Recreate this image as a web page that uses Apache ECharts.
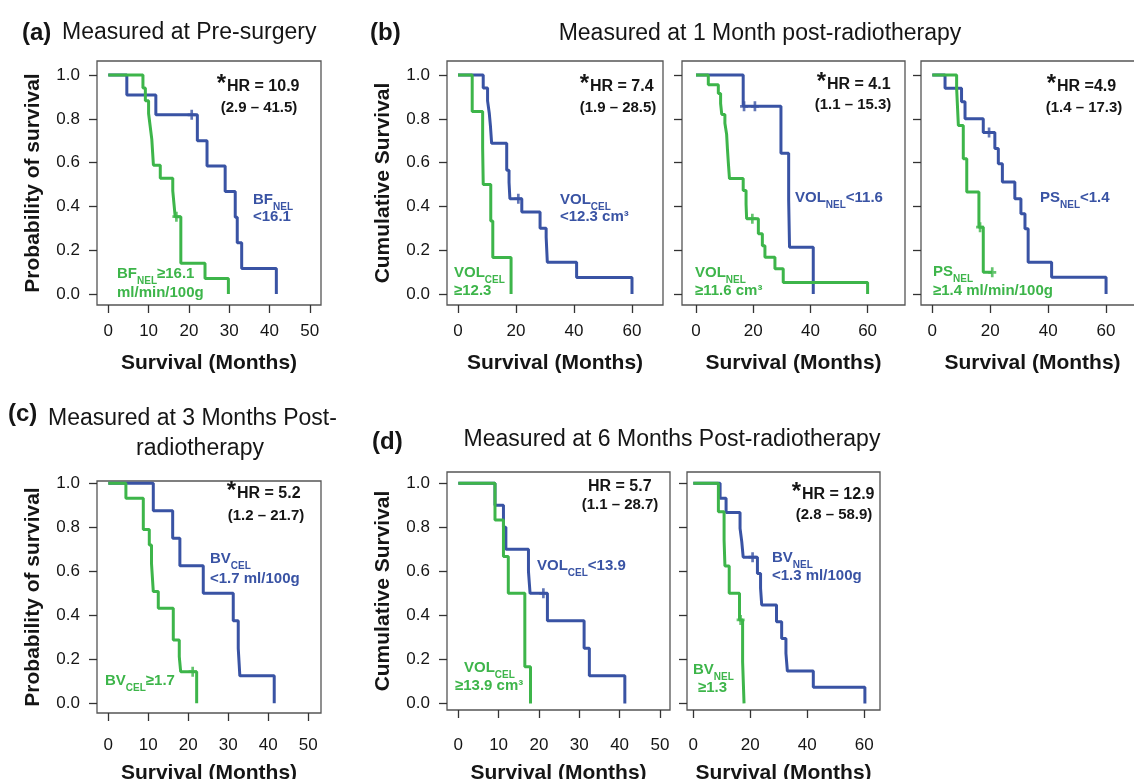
<!DOCTYPE html>
<html><head><meta charset="utf-8">
<script src="https://cdn.jsdelivr.net/npm/echarts@6/dist/echarts.min.js"></script>
<style>html,body{margin:0;padding:0;background:#fff}#c{width:1134px;height:779px}</style>
</head><body><div id="c"></div><script>
// ---------------- DATA ----------------
const xTicks50 = [0, 10, 20, 30, 40, 50];
const xTicks60 = [0, 20, 40, 60];
const yTicks = [0, 0.2, 0.4, 0.6, 0.8, 1];

// (a) Pre-surgery, BF_NEL
const aBlueTime = [0, 4.6, 11.8, 22.1, 24.5, 29.0, 31.5, 32.0, 33.1, 41.7];
const aBlueSurv = [1, 0.909, 0.818, 0.700, 0.585, 0.468, 0.351, 0.234, 0.117, 0];
const aBlueCens = [20.7];
const aGreenTime = [0, 8.6, 9.2, 10.0, 10.4, 10.8, 11.0, 11.2, 12.9, 16.0, 16.3, 16.6, 18.0, 24.0, 29.8];
const aGreenSurv = [1, 0.941, 0.882, 0.824, 0.765, 0.706, 0.647, 0.588, 0.529, 0.471, 0.412, 0.353, 0.141, 0.071, 0];
const aGreenCens = [16.9];

// (b1) 1 month post-RT, VOL_CEL
const b1BlueTime = [0, 8.7, 10.2, 10.8, 11.2, 11.6, 16.8, 17.6, 17.9, 22.0, 28.3, 30.4, 30.8, 40.9, 60.0];
const b1BlueSurv = [1, 0.941, 0.882, 0.824, 0.765, 0.688, 0.565, 0.510, 0.435, 0.374, 0.300, 0.260, 0.145, 0.075, 0];
const b1BlueCens = [20.8];
const b1GreenTime = [0, 4.9, 8.5, 8.7, 11.3, 12.0, 18.3];
const b1GreenSurv = [1, 0.833, 0.667, 0.5, 0.333, 0.167, 0];
const b1GreenCens = [];

// (b2) VOL_NEL
const b2BlueTime = [0, 16.5, 29.7, 32.4, 32.7, 41.0];
const b2BlueSurv = [1, 0.857, 0.643, 0.429, 0.214, 0];
const b2BlueCens = [16.8, 20.6];
const b2GreenTime = [0, 4.3, 7.8, 8.6, 9.0, 10.1, 10.7, 11.0, 11.3, 11.7, 16.5, 17.5, 17.7, 21.8, 23.2, 24.1, 27.6, 30.5, 60.0];
const b2GreenSurv = [1, 0.955, 0.916, 0.87, 0.82, 0.78, 0.73, 0.66, 0.60, 0.527, 0.473, 0.41, 0.344, 0.275, 0.22, 0.168, 0.115, 0.053, 0];
const b2GreenCens = [19.7];

// (b3) PS_NEL
const b3BlueTime = [0, 4.4, 10.1, 11.3, 17.6, 21.6, 22.8, 24.2, 28.5, 30.6, 32.0, 33.1, 41.2, 60.0];
const b3BlueSurv = [1, 0.94, 0.878, 0.80, 0.737, 0.664, 0.595, 0.511, 0.435, 0.366, 0.298, 0.145, 0.076, 0];
const b3BlueCens = [19.6];
const b3GreenTime = [0, 8.4, 9.0, 10.7, 11.9, 16.1, 17.6, 20.7];
const b3GreenSurv = [1, 0.94, 0.77, 0.618, 0.466, 0.305, 0.099, 0.099];
const b3GreenCens = [16.5, 20.7];

// (c) 3 months post-RT, BV_CEL
const cBlueTime = [0, 11.25, 16.1, 17.9, 23.75, 31.25, 32.5, 32.9, 41.5];
const cBlueSurv = [1, 0.875, 0.75, 0.625, 0.5, 0.375, 0.25, 0.125, 0];
const cBlueCens = [];
const cGreenTime = [0, 4.4, 8.75, 10.25, 10.8, 11.25, 12.5, 16.25, 17.75, 18.1, 22.1];
const cGreenSurv = [1, 0.932, 0.79, 0.72, 0.636, 0.508, 0.432, 0.288, 0.212, 0.144, 0];
const cGreenCens = [21.1];

// (d1) 6 months post-RT, VOL_CEL
const d1BlueTime = [0, 9.1, 11.2, 11.8, 17.4, 17.8, 22.1, 31.2, 32.5, 41.3];
const d1BlueSurv = [1, 0.9, 0.8, 0.7, 0.6, 0.5, 0.375, 0.25, 0.125, 0];
const d1BlueCens = [21.1];
const d1GreenTime = [0, 9.1, 11.2, 12.4, 16.5, 17.9];
const d1GreenSurv = [1, 0.833, 0.667, 0.5, 0.167, 0];
const d1GreenCens = [];

// (d2) BV_NEL
const d2BlueTime = [0, 9.4, 11.5, 16.4, 17.0, 17.5, 22.5, 23.6, 24.0, 29.2, 31.0, 32.5, 33.0, 42.1, 60.2];
const d2BlueSurv = [1, 0.932, 0.867, 0.795, 0.735, 0.664, 0.59, 0.523, 0.447, 0.371, 0.295, 0.227, 0.147, 0.073, 0];
const d2BlueCens = [20.8];
const d2GreenTime = [0, 8.8, 10.8, 11.1, 12.6, 16.2, 17.3, 17.8];
const d2GreenSurv = [1, 0.871, 0.742, 0.624, 0.5, 0.379, 0.189, 0];
const d2GreenCens = [16.6];

// ---------------- RENDERING ----------------
const F = '"Liberation Sans", Arial, Helvetica, sans-serif';
const BLUE = '#3953A4', GREEN = '#3DB54A', INK = '#151515';

function stepData(T, S) { return T.map((t, i) => [t, S[i]]); }
function survAt(T, S, t) { let v = S[0]; for (let i = 0; i < T.length; i++) { if (T[i] <= t) v = S[i]; } return v; }
function censData(T, S, C) { return C.map(t => [t, survAt(T, S, t)]); }

const panels = [
  { grid: { left: 97, top: 61, width: 224, height: 244 }, xr: [-2.8, 52.78], xt: xTicks50, yr: [-0.0502, 1.064], ylab: true, yname: 'Probability of survival', lm: 18, ng: 48,
    curves: [[aBlueTime, aBlueSurv, aBlueCens], [aGreenTime, aGreenSurv, aGreenCens]] },
  { grid: { left: 447, top: 61, width: 216, height: 244 }, xr: [-3.79, 70.69], xt: xTicks60, yr: [-0.0502, 1.064], ylab: true, yname: 'Cumulative Survival', lm: 18, ng: 48,
    curves: [[b1BlueTime, b1BlueSurv, b1BlueCens], [b1GreenTime, b1GreenSurv, b1GreenCens]] },
  { grid: { left: 682, top: 61, width: 223, height: 244 }, xr: [-4.9, 73.08], xt: xTicks60, yr: [-0.0502, 1.064], ylab: false, yname: '', lm: 18, ng: 48,
    curves: [[b2BlueTime, b2BlueSurv, b2BlueCens], [b2GreenTime, b2GreenSurv, b2GreenCens]] },
  { grid: { left: 921, top: 61, width: 223, height: 244 }, xr: [-3.9, 73.1], xt: xTicks60, yr: [-0.0502, 1.064], ylab: false, yname: '', lm: 18, ng: 48,
    curves: [[b3BlueTime, b3BlueSurv, b3BlueCens], [b3GreenTime, b3GreenSurv, b3GreenCens]] },
  { grid: { left: 97, top: 481, width: 224, height: 232 }, xr: [-2.83, 53.2], xt: xTicks50, yr: [-0.044, 1.0105], ylab: true, yname: 'Probability of survival', lm: 24, ng: 50,
    curves: [[cBlueTime, cBlueSurv, cBlueCens], [cGreenTime, cGreenSurv, cGreenCens]] },
  { grid: { left: 447, top: 472, width: 223, height: 238 }, xr: [-2.8, 52.5], xt: xTicks50, yr: [-0.030, 1.051], ylab: true, yname: 'Cumulative Survival', lm: 27, ng: 53,
    curves: [[d1BlueTime, d1BlueSurv, d1BlueCens], [d1GreenTime, d1GreenSurv, d1GreenCens]] },
  { grid: { left: 687, top: 472, width: 193, height: 238 }, xr: [-2.21, 65.5], xt: xTicks60, yr: [-0.030, 1.051], ylab: false, yname: '', lm: 27, ng: 53,
    curves: [[d2BlueTime, d2BlueSurv, d2BlueCens], [d2GreenTime, d2GreenSurv, d2GreenCens]] }
];

const nameStyle = { fontSize: 21, fontWeight: 'bold', fontFamily: F, color: INK };
const series = [];
panels.forEach((p, i) => {
  p.curves.forEach((c, k) => {
    const col = k === 0 ? BLUE : GREEN;
    series.push({ type: 'line', xAxisIndex: i, yAxisIndex: i, data: stepData(c[0], c[1]), step: 'end', symbol: 'none',
      lineStyle: { color: col, width: 3 }, itemStyle: { color: col }, silent: true, z: 2 + k });
  });
  p.curves.forEach((c, k) => {
    const col = k === 0 ? BLUE : GREEN;
    if (c[2].length) series.push({ type: 'scatter', xAxisIndex: i, yAxisIndex: i, data: censData(c[0], c[1], c[2]),
      symbol: 'path://M3,0 L6,0 L6,4 L9,4 L9,7 L6,7 L6,11 L3,11 L3,7 L0,7 L0,4 L3,4 Z', symbolSize: [8, 10],
      itemStyle: { color: col }, silent: true, z: 5 });
  });
});

// text annotations
const rich = {
  b: { fontSize: 15, fontWeight: 'bold', fontFamily: F, lineHeight: 20, verticalAlign: 'top' },
  s: { fontSize: 10, fontWeight: 'bold', fontFamily: F, lineHeight: 10, verticalAlign: 'bottom' },
  h: { fontSize: 16, fontWeight: 'bold', fontFamily: F, lineHeight: 20, verticalAlign: 'top' },
  ci: { fontSize: 15, fontWeight: 'bold', fontFamily: F, lineHeight: 20, verticalAlign: 'top' }
};
function T(x, y, text, fill, align) {
  return { type: 'text', x: x, y: y, silent: true, z: 10,
    style: { text: text, fill: fill, rich: rich, align: align, verticalAlign: 'middle', textAlign: align, textVerticalAlign: 'middle', font: 'bold 15px ' + F } };
}
function P(x, y, text, size, weight, align) {
  return { type: 'text', x: x, y: y, silent: true, z: 10,
    style: { text: text, fill: INK, font: weight + ' ' + size + 'px ' + F, align: align, verticalAlign: 'middle', textAlign: align, textVerticalAlign: 'middle' } };
}
// hazard ratio: raised asterisk + bold text, left-anchored
function HR(x, y, text, star) {
  const out = [P(x, y, text, 16, 'bold', 'left')];
  if (star) out.push(P(x - 1, y - 3, '*', 24, 'bold', 'right'));
  return out;
}
const graphics = [
  P(22, 33, '(a)', 24, 'bold', 'left'), P(62, 33, 'Measured at Pre-surgery', 23, 'normal', 'left'),
  P(370, 33, '(b)', 24, 'bold', 'left'), P(760, 34, 'Measured at 1 Month post-radiotherapy', 23, 'normal', 'center'),
  P(8, 414, '(c)', 24, 'bold', 'left'), P(48, 419, 'Measured at 3 Months Post-', 23, 'normal', 'left'),
  P(200, 449, 'radiotherapy', 23, 'normal', 'center'),
  P(372, 442, '(d)', 24, 'bold', 'left'), P(672, 440, 'Measured at 6 Months Post-radiotherapy', 23, 'normal', 'center'),

  ...HR(227, 87, 'HR = 10.9', true), T(259, 110, '{ci|(2.9 – 41.5)}', INK, 'center'),
  T(253, 202, '{b|BF}{s|NEL}', BLUE, 'left'), T(253, 219, '{b|<16.1}', BLUE, 'left'),
  T(117, 276, '{b|BF}{s|NEL}{b|≥16.1}', GREEN, 'left'), T(117, 295, '{b|ml/min/100g}', GREEN, 'left'),

  ...HR(590, 87, 'HR = 7.4', true), T(618, 110, '{ci|(1.9 – 28.5)}', INK, 'center'),
  T(560, 202, '{b|VOL}{s|CEL}', BLUE, 'left'), T(560, 219, '{b|<12.3 cm³}', BLUE, 'left'),
  T(454, 275, '{b|VOL}{s|CEL}', GREEN, 'left'), T(454, 293, '{b|≥12.3}', GREEN, 'left'),

  ...HR(827, 85, 'HR = 4.1', true), T(853, 107, '{ci|(1.1 – 15.3)}', INK, 'center'),
  T(795, 200, '{b|VOL}{s|NEL}{b|<11.6}', BLUE, 'left'),
  T(695, 275, '{b|VOL}{s|NEL}', GREEN, 'left'), T(695, 293, '{b|≥11.6 cm³}', GREEN, 'left'),

  ...HR(1057, 87, 'HR =4.9', true), T(1084, 110, '{ci|(1.4 – 17.3)}', INK, 'center'),
  T(1040, 200, '{b|PS}{s|NEL}{b|<1.4}', BLUE, 'left'),
  T(933, 274, '{b|PS}{s|NEL}', GREEN, 'left'), T(933, 293, '{b|≥1.4 ml/min/100g}', GREEN, 'left'),

  ...HR(237, 494, 'HR = 5.2', true), T(266, 518, '{ci|(1.2 – 21.7)}', INK, 'center'),
  T(210, 561, '{b|BV}{s|CEL}', BLUE, 'left'), T(210, 581, '{b|<1.7 ml/100g}', BLUE, 'left'),
  T(105, 683, '{b|BV}{s|CEL}{b|≥1.7}', GREEN, 'left'),

  ...HR(588, 487, 'HR = 5.7', false), T(620, 507, '{ci|(1.1 – 28.7)}', INK, 'center'),
  T(537, 568, '{b|VOL}{s|CEL}{b|<13.9}', BLUE, 'left'),
  T(464, 670, '{b|VOL}{s|CEL}', GREEN, 'left'), T(455, 688, '{b|≥13.9 cm³}', GREEN, 'left'),

  ...HR(802, 495, 'HR = 12.9', true), T(834, 517, '{ci|(2.8 – 58.9)}', INK, 'center'),
  T(772, 560, '{b|BV}{s|NEL}', BLUE, 'left'), T(772, 578, '{b|<1.3 ml/100g}', BLUE, 'left'),
  T(693, 672, '{b|BV}{s|NEL}', GREEN, 'left'), T(698, 690, '{b|≥1.3}', GREEN, 'left')
];

const option = {
  animation: false,
  backgroundColor: '#ffffff',
  grid: panels.map(p => Object.assign({ show: true, borderColor: '#555555', borderWidth: 1.3, backgroundColor: 'transparent',
    containLabel: false, outerBoundsMode: 'none' }, p.grid)),
  xAxis: panels.map((p, i) => ({
    type: 'value', gridIndex: i, min: p.xr[0], max: p.xr[1], position: 'bottom',
    axisLine: { show: false, onZero: false }, splitLine: { show: false },
    axisTick: { show: true, inside: false, length: 8, customValues: p.xt, lineStyle: { color: '#333', width: 1.3 } },
    axisLabel: { show: true, customValues: p.xt, margin: p.lm, fontSize: 17, color: INK, fontFamily: F },
    name: 'Survival (Months)', nameLocation: 'middle', nameGap: p.ng, nameTextStyle: nameStyle
  })),
  yAxis: panels.map((p, i) => ({
    type: 'value', gridIndex: i, min: p.yr[0], max: p.yr[1], position: 'left',
    axisLine: { show: false, onZero: false }, splitLine: { show: false },
    axisTick: { show: true, inside: false, length: 8, customValues: yTicks, lineStyle: { color: '#333', width: 1.3 } },
    axisLabel: { show: p.ylab, customValues: yTicks, margin: 17, fontSize: 17, color: INK, fontFamily: F, formatter: v => v.toFixed(1) },
    name: p.yname, nameLocation: 'middle', nameGap: 53, nameTextStyle: nameStyle
  })),
  series: series,
  graphic: graphics
};
const chart = echarts.init(document.getElementById('c'), null, { renderer: 'canvas' });
chart.setOption(option);
</script></body></html>
